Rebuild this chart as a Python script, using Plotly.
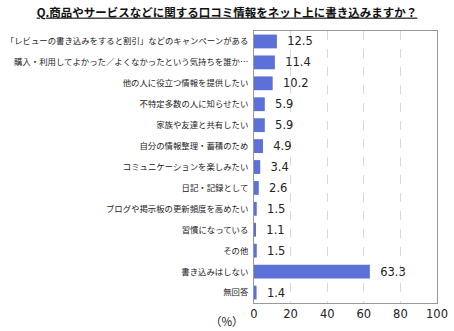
import plotly.graph_objects as go

categories = [
    "「レビューの書き込みをすると割引」などのキャンペーンがある",
    "購入・利用してよかった／よくなかったという気持ちを誰か…",
    "他の人に役立つ情報を提供したい",
    "不特定多数の人に知らせたい",
    "家族や友達と共有したい",
    "自分の情報整理・蓄積のため",
    "コミュニケーションを楽しみたい",
    "日記・記録として",
    "ブログや掲示板の更新頻度を高めたい",
    "習慣になっている",
    "その他",
    "書き込みはしない",
    "無回答",
]
values = [12.5, 11.4, 10.2, 5.9, 5.9, 4.9, 3.4, 2.6, 1.5, 1.1, 1.5, 63.3, 1.4]
tick_vals = [0, 20, 40, 60, 80, 100]

font_jp = "Noto Sans CJK JP"
font_num = "DejaVu Sans"

fig = go.Figure()
fig.add_trace(go.Bar(
    x=values,
    y=categories,
    orientation="h",
    marker=dict(color="#5c70d8", line=dict(width=0)),
    text=["  " + f"{v:.1f}" for v in values],
    textposition="outside",
    constraintext="none",
    textfont=dict(family=font_num, size=11.5, color="#222222"),
    cliponaxis=False,
    width=0.66,
))

fig.update_layout(
    width=454, height=331,
    margin=dict(l=254, r=17, t=31, b=28),
    paper_bgcolor="white",
    plot_bgcolor="white",
    showlegend=False,
    title=dict(
        text="<b><u>Q.商品やサービスなどに関する口コミ情報をネット上に書き込みますか？</u></b>",
        x=0.5, xanchor="center", y=0.962, yanchor="middle",
        font=dict(family=font_jp, size=11.5, color="#111111"),
    ),
    xaxis=dict(
        range=[0, 100],
        tickvals=tick_vals,
        showgrid=True,
        gridcolor="#d8d8d8",
        griddash="dash",
        gridwidth=1,
        zeroline=False,
        showline=True,
        linecolor="#999999",
        mirror=True,
        ticks="",
        automargin=False,
        tickfont=dict(family=font_num, size=11.5, color="#222222"),
        fixedrange=True,
    ),
    yaxis=dict(
        autorange="reversed",
        showline=True,
        linecolor="#999999",
        mirror=True,
        ticks="",
        automargin=False,
        ticklabelstandoff=3,
        tickfont=dict(family=font_jp, size=8.4, color="#222222"),
        fixedrange=True,
    ),
    annotations=[dict(
        text="（%）", x=0, xref="x", xanchor="right", xshift=-8,
        y=0, yref="paper", yanchor="top", yshift=-8, showarrow=False,
        font=dict(family=font_jp, size=11.5, color="#222222"),
    )],
)

fig.write_html("out.html")
